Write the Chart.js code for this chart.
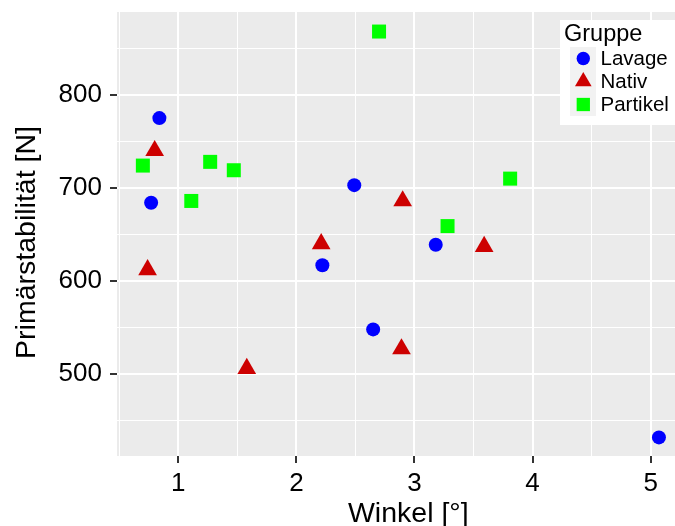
<!DOCTYPE html>
<html>
<head>
<meta charset="utf-8">
<script src="https://cdn.jsdelivr.net/npm/chart.js@4/dist/chart.umd.min.js"></script>
<style>
  html, body { margin: 0; padding: 0; overflow: hidden; background: #fff; }
</style>
</head>
<body>
<canvas id="chart" width="675" height="526"></canvas>
<script>
// values
const groupNames = ["Lavage", "Nativ", "Partikel"];

const lavageX = [0.84, 0.77, 2.49, 2.22, 2.65, 3.18, 5.07];
const lavageY = [775, 684, 703, 617, 548, 639, 432];

const nativX = [0.80, 0.74, 1.58, 2.21, 2.90, 2.89, 3.59];
const nativY = [740, 612, 506, 640, 686, 527, 637];

const partikelX = [0.70, 1.11, 1.27, 1.47, 2.70, 3.28, 3.81];
const partikelY = [724, 686, 728, 719, 868, 659, 710];

const xTicks = [1, 2, 3, 4, 5];
const xGrid = [0.5, 1, 1.5, 2, 2.5, 3, 3.5, 4, 4.5, 5];
const yTicks = [500, 600, 700, 800];
const yGrid = [450, 500, 550, 600, 650, 700, 750, 800, 850];

const xTitle = "Winkel [°]";
const yTitle = "Primärstabilität [N]";
const legendTitle = "Gruppe";

const colors = ["#0000FF", "#CD0000", "#00FF00"];
const shapes = ["circle", "triangle", "rect"];
const radii = [7, 10.8, 9.9];

const font = "'Liberation Sans', Arial, sans-serif";

const toPoints = (xs, ys) => xs.map((x, i) => ({ x: x, y: ys[i] }));
const series = [
  toPoints(lavageX, lavageY),
  toPoints(nativX, nativY),
  toPoints(partikelX, partikelY)
];

// grey panel behind the grid
const panelBg = {
  id: "panelBg",
  beforeDraw(chart) {
    const { ctx, chartArea: a } = chart;
    ctx.save();
    ctx.fillStyle = "#EBEBEB";
    ctx.fillRect(a.left, a.top, a.right - a.left, a.bottom - a.top);
    ctx.restore();
  }
};

// axis titles, placed like the ggplot original
const axisTitles = {
  id: "axisTitles",
  afterDraw(chart) {
    const ctx = chart.ctx;
    ctx.save();
    ctx.fillStyle = "#000";
    ctx.font = "28.5px " + font;
    ctx.textAlign = "center";
    ctx.textBaseline = "alphabetic";
    ctx.fillText(xTitle, 408.3, 521.5);
    ctx.translate(35, 242.5);
    ctx.rotate(-Math.PI / 2);
    ctx.fillText(yTitle, 0, 0);
    ctx.restore();
  }
};

// ggplot style legend box inside the panel
const groupLegend = {
  id: "groupLegend",
  afterDraw(chart) {
    const ctx = chart.ctx;
    ctx.save();
    ctx.fillStyle = "#FFFFFF";
    ctx.fillRect(560, 20, 120, 105);
    ctx.fillStyle = "#000";
    ctx.font = "23.5px " + font;
    ctx.textBaseline = "alphabetic";
    ctx.fillText(legendTitle, 564, 40.5);
    const legendR = [6.7, 9.6, 9.4];
    groupNames.forEach((name, i) => {
      const cy = 58.5 + i * 23;
      ctx.fillStyle = "#F2F2F2";
      ctx.fillRect(570, cy - 11.5, 26, 23);
      ctx.fillStyle = colors[i];
      Chart.helpers.drawPoint(ctx, { pointStyle: shapes[i], radius: legendR[i], rotation: 0, borderWidth: 0 }, 583.3, cy);
      ctx.fillStyle = "#000";
      ctx.font = "20.5px " + font;
      ctx.textBaseline = "middle";
      ctx.fillText(name, 600.5, cy + 1);
    });
    ctx.restore();
  }
};

const noPad = s => {
  s.paddingTop = 0;
  s.paddingBottom = 0;
  s.paddingLeft = 0;
  s.paddingRight = 0;
};

new Chart(document.getElementById("chart"), {
  type: "scatter",
  data: {
    datasets: groupNames.map((name, i) => ({
      label: name,
      data: series[i],
      pointStyle: shapes[i],
      pointRadius: radii[i],
      pointHoverRadius: radii[i],
      backgroundColor: colors[i],
      borderWidth: 0
    }))
  },
  options: {
    responsive: false,
    animation: false,
    events: [],
    layout: { autoPadding: false, padding: { top: 12, right: 0, bottom: 0, left: 0 } },
    plugins: { legend: { display: false }, tooltip: { enabled: false } },
    scales: {
      x: {
        type: "linear",
        min: 0.481,
        max: 5.206,
        afterBuildTicks: s => { s.ticks = xGrid.map(v => ({ value: v })); },
        afterFit: s => { s.height = 70; noPad(s); },
        border: { display: false },
        grid: {
          color: "#FFFFFF",
          lineWidth: c => xTicks.includes(c.tick.value) ? 2 : 1,
          tickLength: 7,
          tickWidth: 2,
          tickColor: c => xTicks.includes(c.tick.value) ? "#333333" : "rgba(0,0,0,0)"
        },
        ticks: {
          autoSkip: false,
          maxRotation: 0,
          padding: 5,
          color: "#000",
          font: { family: font, size: 26 },
          callback: v => xTicks.includes(v) ? String(v) : ""
        }
      },
      y: {
        type: "linear",
        min: 412,
        max: 889,
        afterBuildTicks: s => { s.ticks = yGrid.map(v => ({ value: v })); },
        afterFit: s => { s.width = 117; noPad(s); },
        border: { display: false },
        grid: {
          color: "#FFFFFF",
          lineWidth: c => yTicks.includes(c.tick.value) ? 2 : 1,
          tickLength: 7,
          tickWidth: 2,
          tickColor: c => yTicks.includes(c.tick.value) ? "#333333" : "rgba(0,0,0,0)"
        },
        ticks: {
          autoSkip: false,
          padding: 8,
          color: "#000",
          font: { family: font, size: 26 },
          callback: v => yTicks.includes(v) ? String(v) : ""
        }
      }
    }
  },
  plugins: [panelBg, axisTitles, groupLegend]
});
</script>
</body>
</html>
